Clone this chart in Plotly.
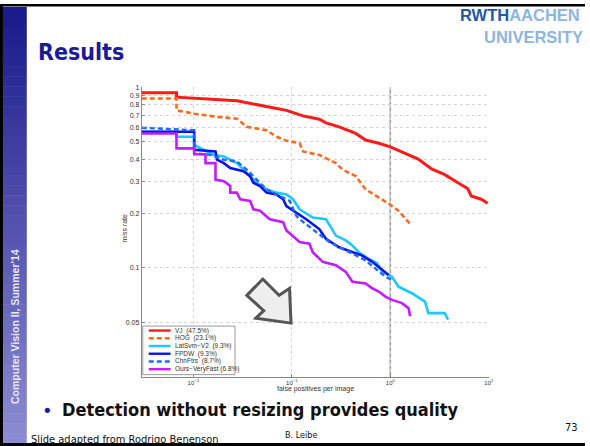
import plotly.graph_objects as go

# ---------------- data ----------------
names = ["VJ  (47.5%)", "HOG  (23.1%)", "LatSvm\u2212V2  (9.3%)", "FPDW  (9.3%)",
         "ChnFtrs  (8.7%)", "Ours\u2212VeryFast (6.8%)"]

vj_fppi = [0.003, 0.00675, 0.00675, 0.0277, 0.0881, 0.130, 0.190, 0.222, 0.302, 0.445, 0.561,
           0.763, 0.984, 1.41, 1.92, 2.62, 3.57, 4.86, 6.12, 6.62, 8.35, 9.72]
vj_miss = [0.931, 0.931, 0.881, 0.841, 0.745, 0.694, 0.665, 0.635, 0.604, 0.555, 0.510,
           0.490, 0.469, 0.431, 0.400, 0.353, 0.328, 0.296, 0.274, 0.250, 0.240, 0.228]

hog_fppi = [0.003, 0.00675, 0.00675, 0.0102, 0.0174, 0.0277, 0.0349, 0.0554, 0.0698, 0.0881,
            0.120, 0.130, 0.190, 0.280, 0.327, 0.445, 0.561, 0.763, 0.984, 1.21, 1.59]
hog_miss = [0.866, 0.866, 0.745, 0.714, 0.685, 0.670, 0.604, 0.578, 0.532, 0.506,
            0.490, 0.441, 0.422, 0.380, 0.350, 0.322, 0.272, 0.245, 0.225, 0.207, 0.175]

lat_fppi = [0.003, 0.00675, 0.00675, 0.0102, 0.0102, 0.0128, 0.0161, 0.0204, 0.0277, 0.0323,
            0.0377, 0.0440, 0.0554, 0.0698, 0.0881, 0.1028, 0.120, 0.163, 0.222, 0.269, 0.280,
            0.353, 0.412, 0.480, 0.605, 0.735, 0.826, 1.04, 1.21, 1.65, 2.25, 2.43, 3.57, 3.85]
lat_miss = [0.567, 0.567, 0.532, 0.532, 0.479, 0.450, 0.422, 0.414, 0.380, 0.350,
            0.322, 0.296, 0.272, 0.261, 0.255, 0.240, 0.211, 0.190, 0.186, 0.157, 0.151,
            0.142, 0.133, 0.122, 0.112, 0.106, 0.0951, 0.0893, 0.0787, 0.0724, 0.0651, 0.0562,
            0.0562, 0.0517]

fpdw_fppi = [0.003, 0.0102, 0.0102, 0.0168, 0.0174, 0.0204, 0.0237, 0.0323, 0.0377, 0.0407,
             0.0475, 0.0554, 0.0698, 0.0816, 0.0881, 0.111, 0.140, 0.190, 0.222, 0.302, 0.412,
             0.520, 0.655, 0.891, 0.962]
fpdw_miss = [0.567, 0.567, 0.450, 0.441, 0.397, 0.380, 0.357, 0.343, 0.322, 0.296,
             0.284, 0.261, 0.255, 0.240, 0.220, 0.203, 0.186, 0.164, 0.145, 0.130, 0.122,
             0.117, 0.108, 0.0951, 0.0912]

chn_fppi = [0.003, 0.0102, 0.0102, 0.0149, 0.0204, 0.0277, 0.0349, 0.0440, 0.0554, 0.0755,
            0.0951, 0.111, 0.120, 0.240, 0.327, 0.561, 0.707, 0.891, 1.04]
chn_miss = [0.597, 0.578, 0.431, 0.422, 0.397, 0.388, 0.350, 0.308, 0.272, 0.250,
            0.235, 0.194, 0.186, 0.139, 0.128, 0.110, 0.099, 0.0893, 0.0857]

ours_fppi = [0.003, 0.00675, 0.00675, 0.0102, 0.0102, 0.0133, 0.0133, 0.0168, 0.0168, 0.0204,
             0.0237, 0.0237, 0.0277, 0.0299, 0.0377, 0.0407, 0.0475, 0.0554, 0.0598, 0.0816,
             0.0881, 0.120, 0.151, 0.163, 0.190, 0.206, 0.280, 0.353, 0.412, 0.561, 0.655,
             0.763, 0.891, 1.04, 1.31, 1.53, 1.59]
ours_miss = [0.555, 0.555, 0.459, 0.459, 0.426, 0.426, 0.380, 0.380, 0.308, 0.302,
             0.284, 0.261, 0.261, 0.240, 0.235, 0.211, 0.207, 0.194, 0.186, 0.179,
             0.161, 0.139, 0.136, 0.122, 0.112, 0.108, 0.1035, 0.0951, 0.0838, 0.0820, 0.0771,
             0.0740, 0.0694, 0.0665, 0.0638, 0.0599, 0.0540]

x_tickvals = [0.01, 0.1, 1, 10]
x_ticktext = ["10<sup>\u22122</sup>", "10<sup>\u22121</sup>", "10<sup>0</sup>", "10<sup>1</sup>"]
y_tickvals = [0.05, 0.1, 0.2, 0.3, 0.4, 0.5, 0.6, 0.7, 0.8, 0.9, 1]
y_ticktext = ["0.05", "0.1", "0.2", "0.3", "0.4", "0.5", "0.6", "0.7", "0.8", "0.9", "1"]

series_x = [vj_fppi, hog_fppi, lat_fppi, fpdw_fppi, chn_fppi, ours_fppi]
series_y = [vj_miss, hog_miss, lat_miss, fpdw_miss, chn_miss, ours_miss]
colors = ["#ff1a1a", "#ff6a1f", "#1ec8ff", "#0a14e6", "#1f6bff", "#c21cff"]
dashes = ["solid", "5px,3px", "solid", "solid", "5px,3px", "solid"]
widths = [3, 2.6, 2.6, 2.6, 2.4, 2.6]

W, H = 590, 446
def px(x):
    return x / W
def py(y):
    return 1 - y / H

fig = go.Figure()
for xs, ys, c, d, w, n in zip(series_x, series_y, colors, dashes, widths, names):
    fig.add_trace(go.Scatter(x=xs, y=ys, mode="lines", name=n, showlegend=False,
                             line=dict(color=c, width=w, dash=d)))

shapes = []
annotations = []

# slide frame + sidebar gradient
n_str = 44
top_c, bot_c = (26, 26, 140), (140, 140, 210)
for i in range(n_str):
    t = i / (n_str - 1)
    c = tuple(int(top_c[k] + (bot_c[k] - top_c[k]) * t) for k in range(3))
    y0 = 3 + i * 10
    shapes.append(dict(type="rect", xref="paper", yref="paper", x0=px(3), x1=px(27),
                       y0=py(y0), y1=py(min(y0 + 10.5, 443)), line=dict(width=0),
                       fillcolor="rgb(%d,%d,%d)" % c, layer="below"))
shapes.append(dict(type="rect", xref="paper", yref="paper", x0=0, x1=1, y0=py(0), y1=py(2.5),
                   line=dict(width=0), fillcolor="black"))
shapes.append(dict(type="rect", xref="paper", yref="paper", x0=0, x1=px(3), y0=0, y1=1,
                   line=dict(width=0), fillcolor="black"))
shapes.append(dict(type="rect", xref="paper", yref="paper", x0=0, x1=1, y0=0, y1=py(443),
                   line=dict(width=0), fillcolor="black"))

# vertical reference line at 1 FPPI
shapes.append(dict(type="line", xref="x", yref="y domain", x0=1, x1=1, y0=0, y1=1,
                   line=dict(color="#999999", width=1.5), layer="below"))

# hollow arrow decoration
arrow = [(249, 294), (265, 277.5), (281.5, 294), (292, 287), (293.5, 322), (258, 317), (266, 309.5)]
path = "M " + " L ".join("%.4f,%.4f" % (px(a), py(b)) for a, b in arrow) + " Z"
shapes.append(dict(type="path", xref="paper", yref="paper", path=path,
                   fillcolor="#eeeeee", line=dict(color="#555555", width=3)))

# manual legend
shapes.append(dict(type="rect", xref="paper", yref="paper", x0=px(144), x1=px(237),
                   y0=py(374), y1=py(325), fillcolor="white", line=dict(color="#999999", width=1)))
for i, (n, c, d) in enumerate(zip(names, colors, dashes)):
    yy = 329.5 + 7.8 * i
    shapes.append(dict(type="line", xref="paper", yref="paper", x0=px(150), x1=px(172),
                       y0=py(yy), y1=py(yy), line=dict(color=c, width=2.4, dash=d)))
    annotations.append(dict(xref="paper", yref="paper", x=px(174), y=py(yy), text=n,
                            showarrow=False, xanchor="left", yanchor="middle",
                            font=dict(family="Liberation Sans, Arial", size=6.5, color="#333333")))

# axis titles
annotations.append(dict(xref="paper", yref="paper", x=px(318), y=py(395), text="false positives per image",
                        showarrow=False, font=dict(family="Liberation Sans, Arial", size=7, color="#333333")))
annotations.append(dict(xref="paper", yref="paper", x=px(120), y=py(226), text="miss rate", textangle=-90,
                        showarrow=False, font=dict(family="Liberation Sans, Arial", size=7, color="#333333")))

# slide texts
annotations.append(dict(xref="paper", yref="paper", x=px(36), y=py(48), text="<b>Results</b>",
                        showarrow=False, xanchor="left", yanchor="middle",
                        font=dict(family="DejaVu Sans Condensed, DejaVu Sans", size=23, color="#1a1a9a")))
annotations.append(dict(xref="paper", yref="paper", x=px(462), y=py(11.5),
                        text="<b><span style='color:#1a5aa8'>RWTH</span>AACHEN</b>",
                        showarrow=False, xanchor="left", yanchor="middle",
                        font=dict(family="Liberation Sans, Arial", size=16.5, color="#8db5e3")))
annotations.append(dict(xref="paper", yref="paper", x=px(590), y=py(33), text="<b>UNIVERSITY</b>",
                        showarrow=False, xanchor="right", yanchor="middle",
                        font=dict(family="Liberation Sans, Arial", size=16.5, color="#8db5e3")))
annotations.append(dict(xref="paper", yref="paper", x=px(15), y=py(325), text="<b>Computer Vision II, Summer'14</b>",
                        textangle=-90, showarrow=False, xanchor="center", yanchor="middle",
                        font=dict(family="Liberation Sans, Arial", size=10.5, color="#e6e6f5")))
annotations.append(dict(xref="paper", yref="paper", x=px(40), y=py(410), text="\u2022",
                        showarrow=False, xanchor="left", yanchor="middle",
                        font=dict(family="DejaVu Sans", size=18, color="#1a1a9a")))
annotations.append(dict(xref="paper", yref="paper", x=px(61), y=py(409), text="<b>Detection without resizing provides quality</b>",
                        showarrow=False, xanchor="left", yanchor="middle",
                        font=dict(family="DejaVu Sans Condensed, DejaVu Sans", size=18, color="#111111")))
annotations.append(dict(xref="paper", yref="paper", x=px(29), y=py(439), text="Slide adapted from Rodrigo Benenson",
                        showarrow=False, xanchor="left", yanchor="middle",
                        font=dict(family="DejaVu Sans Condensed, DejaVu Sans", size=11, color="#111111")))
annotations.append(dict(xref="paper", yref="paper", x=px(304), y=py(435), text="B. Leibe",
                        showarrow=False, xanchor="center", yanchor="middle",
                        font=dict(family="DejaVu Sans Condensed, DejaVu Sans", size=9, color="#111111")))
annotations.append(dict(xref="paper", yref="paper", x=px(585), y=py(427), text="73",
                        showarrow=False, xanchor="right", yanchor="middle",
                        font=dict(family="DejaVu Sans Condensed, DejaVu Sans", size=11, color="#111111")))

fig.update_layout(
    width=W, height=H, autosize=False,
    margin=dict(l=0, r=0, t=0, b=0, pad=0),
    paper_bgcolor="white", plot_bgcolor="white",
    showlegend=False,
    shapes=shapes, annotations=annotations,
    xaxis=dict(type="log", domain=[px(143), px(493)], range=[-2.523, 1],
               tickvals=x_tickvals, ticktext=x_ticktext, ticks="inside", ticklen=3,
               tickcolor="#888888", showline=True, linecolor="#888888", linewidth=1,
               showgrid=True, gridcolor="#d4d4d4", griddash="dot", gridwidth=1,
               zeroline=False, tickfont=dict(family="Liberation Sans, Arial", size=6, color="#333333")),
    yaxis=dict(type="log", domain=[py(376), py(84)], range=[-1.602, 0],
               tickvals=y_tickvals, ticktext=y_ticktext, ticks="inside", ticklen=3,
               tickcolor="#888888", showline=True, linecolor="#888888", linewidth=1,
               showgrid=True, gridcolor="#d4d4d4", griddash="dot", gridwidth=1,
               zeroline=False, tickfont=dict(family="Liberation Sans, Arial", size=7, color="#333333")),
)

post = ("document.documentElement.style.margin='0';document.body.style.margin='0';"
        "document.documentElement.style.overflow='hidden';document.body.style.overflow='hidden';"
        "var d=document.getElementById('{plot_id}');d.style.display='block';"
        "d.parentElement.style.height='446px';d.parentElement.style.overflow='hidden';"
        "document.body.style.height='446px';document.documentElement.style.height='446px';")
fig.write_html("out.html", config={"displayModeBar": False}, post_script=post)
